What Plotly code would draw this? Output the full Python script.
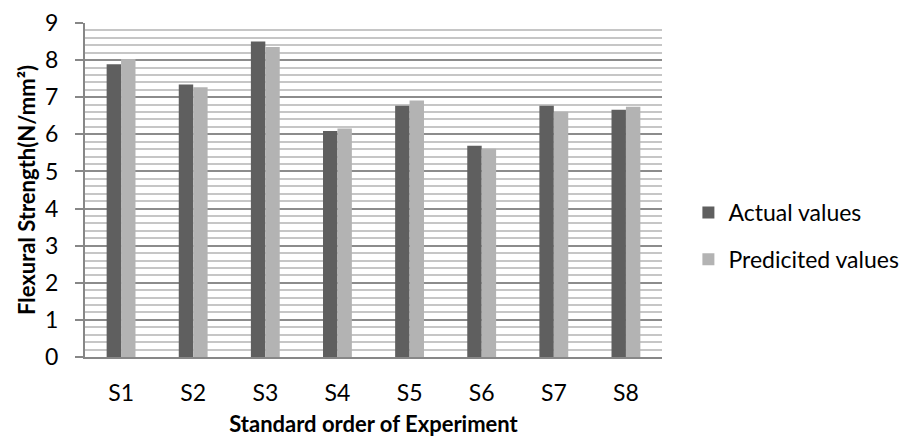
import plotly.graph_objects as go

# Flexural strength per experiment run
runs = ["S1", "S2", "S3", "S4", "S5", "S6", "S7", "S8"]
actual_values = [7.89, 7.34, 8.50, 6.09, 6.77, 5.69, 6.77, 6.66]
predicted_values = [8.03, 7.27, 8.35, 6.16, 6.91, 5.61, 6.61, 6.74]
y_ticks = [0, 1, 2, 3, 4, 5, 6, 7, 8, 9]

FONT = "Lato"
AXIS_GREY = "#878787"

fig = go.Figure()
fig.add_trace(go.Bar(
    x=runs, y=actual_values, name="Actual values",
    marker=dict(color="#5f5f5f", line=dict(width=0)),
    legendgroup="a",
))
fig.add_trace(go.Bar(
    x=runs, y=predicted_values, name="Predicited values",
    marker=dict(color="#b3b3b3", line=dict(width=0)),
    legendgroup="p",
))

fig.update_layout(
    width=913, height=437,
    margin=dict(l=85, r=251, t=23, b=80, autoexpand=False),
    paper_bgcolor="white", plot_bgcolor="white",
    barmode="group", bargap=0.6, bargroupgap=0,
    font=dict(family=FONT, size=23, color="#000000"),
    showlegend=True,
    legend=dict(
        xref="container", yref="container",
        x=0.754, y=0.46, xanchor="left", yanchor="middle",
        font=dict(family=FONT, size=23, color="#000000"),
        tracegroupgap=14, itemwidth=30,
        bgcolor="rgba(0,0,0,0)",
    ),
)

fig.update_xaxes(
    automargin=False,
    showline=True, linecolor=AXIS_GREY, linewidth=2,
    ticks="", showgrid=False,
    tickfont=dict(family=FONT, size=23),
    ticklabelstandoff=14,
    title=dict(text="<b>Standard order of Experiment</b>",
               font=dict(family=FONT, size=22), standoff=19),
)

fig.update_yaxes(
    automargin=False,
    range=[0, 9], tickvals=y_ticks,
    showline=True, linecolor=AXIS_GREY, linewidth=2,
    ticks="outside", ticklen=8, tickcolor=AXIS_GREY, tickwidth=2,
    tickfont=dict(family=FONT, size=23),
    ticklabelstandoff=12,
    showgrid=True, gridcolor="#8c8c8c", gridwidth=2,
    minor=dict(dtick=0.2, showgrid=True, gridcolor="#c6c6c6", gridwidth=2),
    zeroline=False,
    title=dict(text="<b>Flexural Strength(N/mm²)</b>",
               font=dict(family=FONT, size=22), standoff=3),
)

fig.write_html("out.html")
